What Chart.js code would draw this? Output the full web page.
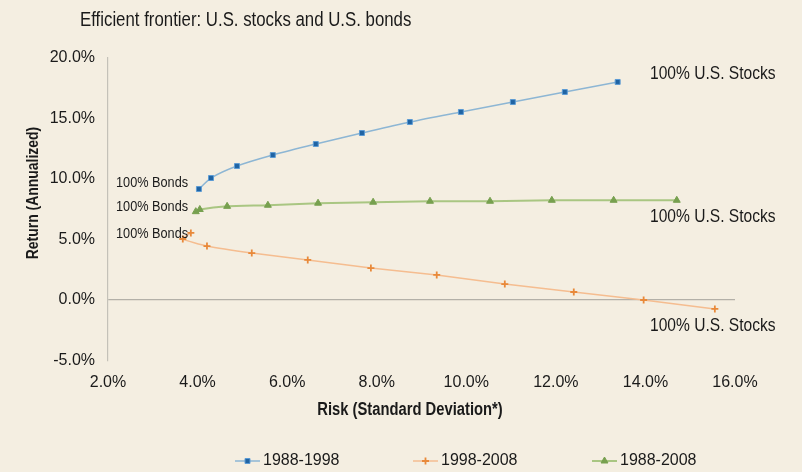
<!DOCTYPE html>
<html>
<head>
<meta charset="utf-8">
<script src="https://cdn.jsdelivr.net/npm/chart.js@4/dist/chart.umd.min.js"></script>
<style>
  html, body { margin: 0; padding: 0; background: #f4eee1; }
  #wrap { width: 802px; height: 472px; position: relative; }
</style>
</head>
<body>
<div id="wrap"><canvas id="frontier"></canvas></div>
<script>
// values (risk = std dev %, return = annualized %)
const seriesNames = ["1988-1998", "1998-2008", "1988-2008"];

const risk8898 = [4.03, 4.30, 4.88, 5.68, 6.64, 7.67, 8.74, 9.88, 11.04, 12.20, 13.38];
const return8898 = [9.17, 10.08, 11.07, 11.98, 12.89, 13.80, 14.71, 15.54, 16.36, 17.19, 18.02];

const risk9808 = [3.85, 3.67, 4.21, 5.21, 6.46, 7.87, 9.34, 10.86, 12.40, 13.96, 15.55];
const return9808 = [5.54, 5.04, 4.46, 3.88, 3.31, 2.64, 2.07, 1.32, 0.66, 0.0, -0.74];

const risk8808 = [3.96, 4.05, 4.66, 5.57, 6.69, 7.92, 9.19, 10.53, 11.91, 13.29, 14.70];
const return8808 = [7.30, 7.48, 7.74, 7.83, 8.00, 8.08, 8.16, 8.16, 8.24, 8.24, 8.24];

const xTicks = [2, 4, 6, 8, 10, 12, 14, 16];
const yTicks = [-5, 0, 5, 10, 15, 20];

const toPoints = (xs, ys) => xs.map((x, i) => ({ x: x, y: ys[i] }));

const styles = [
  { line: "#8db6d4", lineWidth: 1.5, point: "rect", radius: 3.5, fill: "#1f63a3", border: "#5b9bd5", borderWidth: 1, tension: 0.3 },
  { line: "#f5bd90", lineWidth: 1.5, point: "cross", radius: 3.5, fill: "#e8893a", border: "#e8893a", borderWidth: 1.8, tension: 0.15 },
  { line: "#a9c682", lineWidth: 2, point: "triangle", radius: 4, fill: "#77a04f", border: "#77a04f", borderWidth: 1, tension: 0.2 },
];

const dataSets = [toPoints(risk8898, return8898), toPoints(risk9808, return9808), toPoints(risk8808, return8808)];

let narrowOK = null;
function narrowAvailable(ctx) {
  if (narrowOK !== null) return narrowOK;
  ctx.save();
  ctx.font = '40px "Liberation Sans Narrow", monospace';
  const a = ctx.measureText("abcdefghij").width;
  ctx.font = "40px monospace";
  const b = ctx.measureText("abcdefghij").width;
  ctx.restore();
  narrowOK = a !== b;
  return narrowOK;
}

// condensed text, falls back to squeezing Liberation Sans
function narrowText(ctx, text, x, y, size, bold, align, rotate) {
  ctx.save();
  ctx.translate(x, y);
  if (rotate) ctx.rotate(rotate);
  const weight = bold ? "bold " : "";
  if (narrowAvailable(ctx)) {
    ctx.font = weight + size + 'px "Liberation Sans Narrow"';
  } else {
    ctx.font = weight + size + 'px "Liberation Sans", Arial';
    ctx.scale(0.82, 1);
  }
  ctx.fillStyle = "#1a1a1a";
  ctx.textAlign = align || "left";
  ctx.textBaseline = "middle";
  ctx.fillText(text, 0, 0);
  ctx.restore();
}

const textLayer = {
  id: "textLayer",
  beforeDraw(chart) {
    const ctx = chart.ctx;
    ctx.save();
    ctx.fillStyle = "#f4eee1";
    ctx.fillRect(0, 0, chart.width, chart.height);
    ctx.restore();
  },
  afterDraw(chart) {
    const ctx = chart.ctx;
    narrowText(ctx, "Efficient frontier: U.S. stocks and U.S. bonds", 80, 20, 20.5, false, "left");
    narrowText(ctx, "Return (Annualized)", 33, 193, 17, true, "center", -Math.PI / 2);
    narrowText(ctx, "Risk (Standard Deviation*)", 410, 410, 18, true, "center");

    // end-point notes
    narrowText(ctx, "100% Bonds", 116, 183, 15.5, false, "left");
    narrowText(ctx, "100% Bonds", 116, 207, 15.5, false, "left");
    narrowText(ctx, "100% Bonds", 116, 234, 15.5, false, "left");
    narrowText(ctx, "100% U.S. Stocks", 650, 74, 19, false, "left");
    narrowText(ctx, "100% U.S. Stocks", 650, 217, 19, false, "left");
    narrowText(ctx, "100% U.S. Stocks", 650, 326, 19, false, "left");

    // legend, excel style: line with marker
    const legendX = [235, 413, 592];
    const ly = 461;
    seriesNames.forEach((name, i) => {
      const s = styles[i];
      const x0 = legendX[i];
      ctx.save();
      ctx.strokeStyle = s.line;
      ctx.lineWidth = s.lineWidth;
      ctx.beginPath();
      ctx.moveTo(x0, ly);
      ctx.lineTo(x0 + 25, ly);
      ctx.stroke();
      ctx.fillStyle = s.fill;
      ctx.strokeStyle = s.border;
      ctx.lineWidth = s.borderWidth;
      Chart.helpers.drawPoint(ctx, { pointStyle: s.point, radius: s.radius, rotation: 0, borderWidth: s.borderWidth }, x0 + 12.5, ly);
      ctx.fillStyle = "#1a1a1a";
      ctx.font = '16px "Liberation Sans", Arial';
      ctx.textBaseline = "middle";
      ctx.textAlign = "left";
      ctx.fillText(name, x0 + 28, ly);
      ctx.restore();
    });
  },
};

const ctx = document.getElementById("frontier");
const frontierChart = new Chart(ctx, {
  type: "scatter",
  data: {
    datasets: seriesNames.map((name, i) => ({
      label: name,
      data: dataSets[i],
      showLine: true,
      borderColor: styles[i].line,
      borderWidth: styles[i].lineWidth,
      tension: styles[i].tension,
      pointStyle: styles[i].point,
      pointRadius: styles[i].radius,
      pointBackgroundColor: styles[i].fill,
      pointBorderColor: styles[i].border,
      pointBorderWidth: styles[i].borderWidth,
      pointHoverRadius: styles[i].radius,
    })),
  },
  options: {
    responsive: true,
    maintainAspectRatio: false,
    animation: false,
    layout: { padding: { top: 58, right: 67, left: 0, bottom: 0 } },
    plugins: {
      legend: { display: false },
      tooltip: { enabled: false },
    },
    scales: {
      x: {
        type: "linear",
        min: xTicks[0],
        max: xTicks[xTicks.length - 1],
        afterBuildTicks: (scale) => { scale.ticks = xTicks.map((v) => ({ value: v })); },
        afterFit: (scale) => { scale.height = 111.5; },
        grid: { display: false },
        border: { display: false },
        ticks: {
          padding: 4,
          color: "#1a1a1a",
          font: { family: "Liberation Sans", size: 16 },
          callback: (v) => v.toFixed(1) + "%",
        },
      },
      y: {
        min: yTicks[0],
        max: yTicks[yTicks.length - 1],
        afterBuildTicks: (scale) => { scale.ticks = yTicks.map((v) => ({ value: v })); },
        afterFit: (scale) => { scale.width = 108; },
        grid: {
          drawTicks: false,
          color: (c) => (c.tick && c.tick.value === 0 ? "#b3b0a8" : "rgba(0,0,0,0)"),
          lineWidth: 1.2,
        },
        border: { display: true, color: "#c4c1b8", width: 1.2 },
        ticks: {
          padding: 13,
          color: "#1a1a1a",
          font: { family: "Liberation Sans", size: 16 },
          callback: (v) => v.toFixed(1) + "%",
        },
      },
    },
  },
  plugins: [textLayer],
});
</script>
</body>
</html>
